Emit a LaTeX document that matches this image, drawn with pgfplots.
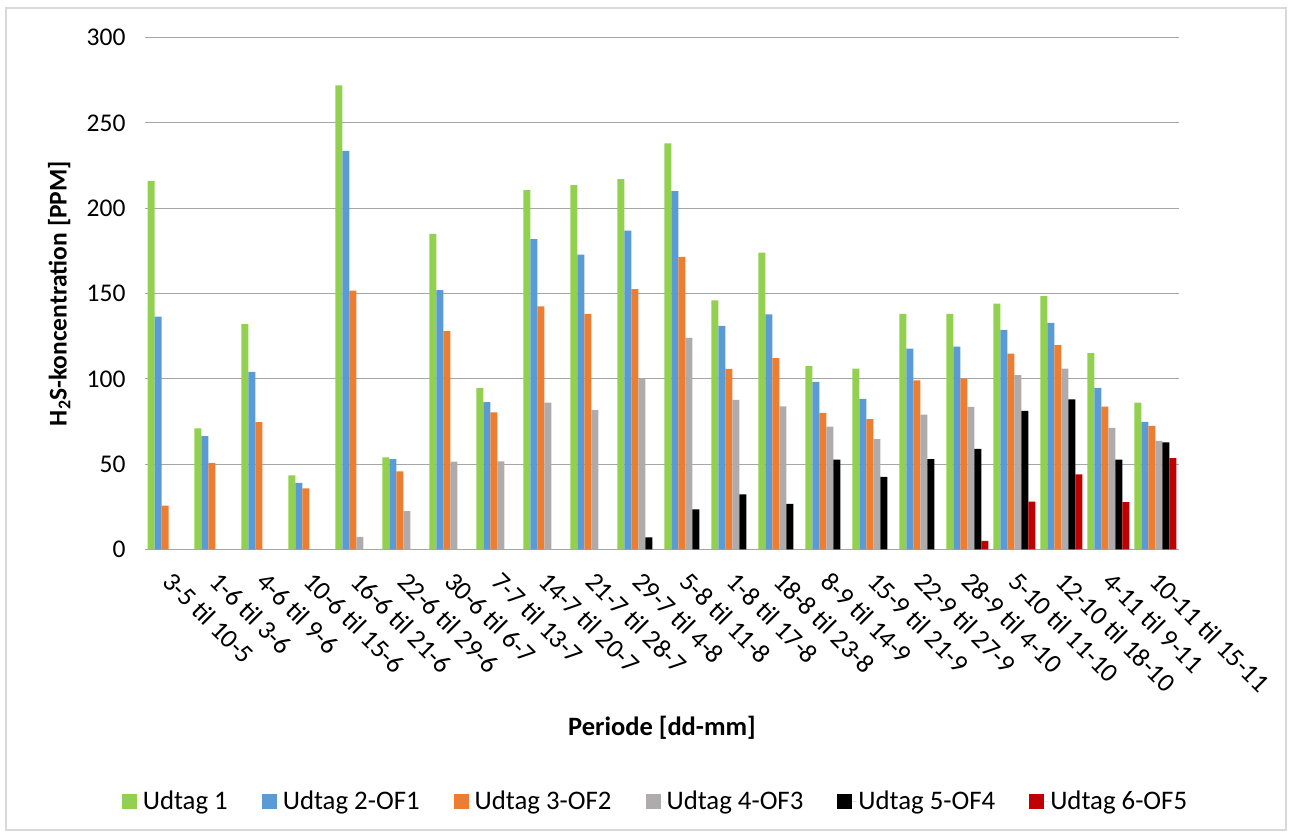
\documentclass[border=0pt]{standalone}
\usepackage{fontspec}
\setmainfont{Carlito}
\usepackage{pgfplots}
\pgfplotsset{compat=1.18}
\definecolor{cgreen}{HTML}{92D050}
\definecolor{cblue}{HTML}{5B9BD5}
\definecolor{corange}{HTML}{ED7D31}
\definecolor{cgray}{HTML}{AFABAB}
\definecolor{cblack}{HTML}{000000}
\definecolor{cred}{HTML}{C00000}
\definecolor{gridc}{HTML}{A6A6A6}
\newcommand\cf{\fontsize{25.5}{30}\selectfont}
\newcommand\cfx{\fontsize{26.5}{31}\selectfont}
\newcommand\cfl{\fontsize{26.8}{31}\selectfont}
\begin{document}
\begin{tikzpicture}
\useasboundingbox (0pt,0pt) rectangle (1290pt,834pt);
\draw[draw={rgb,255:red,217;green,217;blue,217}, line width=1.2pt] (6pt,4pt) rectangle (1286pt,826pt);
\begin{axis}[
  at={(145pt,284.5pt)}, anchor=south west,
  scale only axis, width=1034pt, height=512pt,
  xmin=-0.5, xmax=21.5, ymin=0, ymax=300,
  ybar=0pt, bar width=7pt,
  xtick={0,...,21},
  xticklabels={3-5 til 10-5,1-6 til 3-6,4-6 til 9-6,10-6 til 15-6,16-6 til 21-6,22-6 til 29-6,30-6 til 6-7,7-7 til 13-7,14-7 til 20-7,21-7 til 28-7,29-7 til 4-8,5-8 til 11-8,1-8 til 17-8,18-8 til 23-8,8-9 til 14-9,15-9 til 21-9,22-9 til 27-9,28-9 til 4-10,5-10 til 11-10,12-10 til 18-10,4-11 til 9-11,10-11 til 15-11},
  ytick={0,50,...,300},
  /pgf/number format/assume math mode=true,
  xticklabel style={font=\cfx, rotate=-45, anchor=north west, xshift=12pt, yshift=-4pt},
  yticklabel style={font=\cf, xshift=-16pt},
  tick style={draw=none},
  axis line style={draw=none},
  ymajorgrids, major grid style={draw=gridc, line width=1.3pt},
  xlabel={\bfseries Periode [dd-mm]},
  xlabel style={font=\cfx, at={(axis description cs:0.5,-0.348)}, anchor=center},
  ylabel={\bfseries H\textsubscript{2}S-koncentration [PPM]},
  ylabel style={font=\cf, at={(axis description cs:-0.083,0.5)}, anchor=center},
  legend columns=6,
  legend style={at={(axis description cs:0.4937,-0.4917)}, anchor=center, draw=none, font=\cfl,
    /tikz/every even column/.append style={column sep=32pt}},
  legend image code/.code={\fill[#1] (0pt,-7.5pt) rectangle (15pt,7.5pt); \path (0pt,0pt) -- (19pt,0pt);},
]
\addplot[fill=cgreen, draw=none] coordinates {(0,216) (1,71) (2,132) (3,43.5) (4,272) (5,54) (6,185) (7,94.5) (8,210.5) (9,213.5) (10,217) (11,238) (12,146) (13,174) (14,107.5) (15,106) (16,138) (17,138) (18,144) (19,148.5) (20,115) (21,86)};
\addplot[fill=cblue, draw=none] coordinates {(0,136.5) (1,66.5) (2,104) (3,39) (4,233.5) (5,53) (6,152) (7,86.3) (8,181.8) (9,172.8) (10,186.8) (11,210) (12,131) (13,137.8) (14,98.2) (15,88.3) (16,117.7) (17,118.8) (18,128.7) (19,132.8) (20,94.7) (21,74.8)};
\addplot[fill=corange, draw=none] coordinates {(0,25.7) (1,50.7) (2,74.7) (3,35.8) (4,151.7) (5,45.7) (6,127.9) (7,80.4) (8,142.5) (9,138) (10,152.6) (11,171.4) (12,105.8) (13,112.2) (14,80.1) (15,76.4) (16,99.1) (17,100.1) (18,114.7) (19,119.8) (20,83.7) (21,72.5)};
\addplot[fill=cgray, draw=none] coordinates {(4,7.4) (5,22.5) (6,51.5) (7,51.7) (8,86) (9,81.7) (10,99.9) (11,124) (12,87.6) (13,83.9) (14,72) (15,64.7) (16,79) (17,83.5) (18,102.2) (19,106) (20,71.2) (21,63.6)};
\addplot[fill=cblack, draw=none] coordinates {(10,7.1) (11,23.5) (12,32.3) (13,26.7) (14,52.6) (15,42.5) (16,53) (17,58.9) (18,81.2) (19,88) (20,52.6) (21,62.8)};
\addplot[fill=cred, draw=none] coordinates {(17,5) (18,28) (19,44) (20,27.8) (21,53.6)};
\legend{Udtag 1,Udtag 2-OF1,Udtag 3-OF2,Udtag 4-OF3,Udtag 5-OF4,Udtag 6-OF5}
\end{axis}
\end{tikzpicture}
\end{document}
